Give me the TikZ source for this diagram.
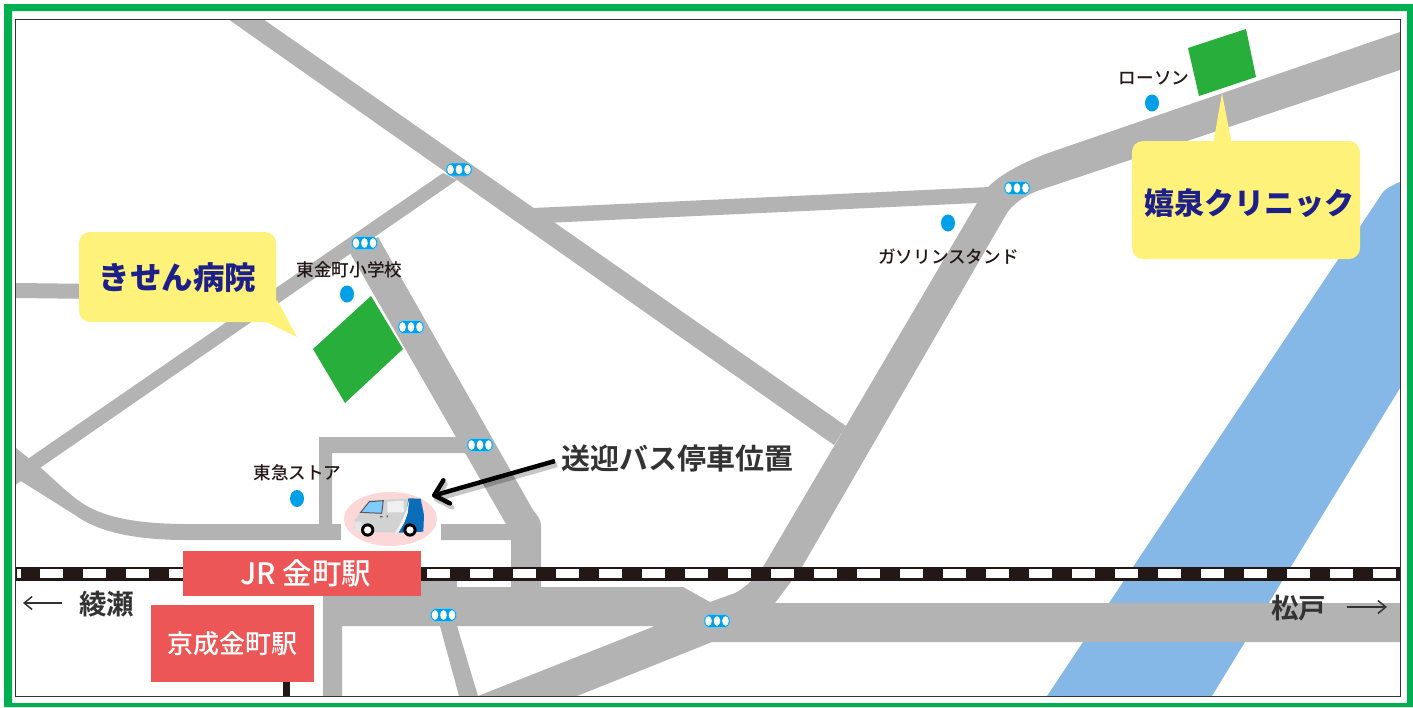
\documentclass[tikz,border=0pt]{standalone}
\usepackage{fontspec}
\setmainfont{Noto Sans CJK JP}
\newfontfamily\medfont{Noto Sans CJK JP Medium}
\newfontfamily\heavyfont{Noto Sans CJK JP Black}
\newfontfamily\semifont{Noto Sans CJK JP Bold}
\usetikzlibrary{arrows.meta,shapes.geometric}
\definecolor{roadgray}{HTML}{B3B3B3}
\definecolor{framegreen}{HTML}{00B050}
\definecolor{bldgreen}{HTML}{27AE3B}
\definecolor{water}{HTML}{85B8E6}
\definecolor{dotblue}{HTML}{00A0E9}
\definecolor{calloutyellow}{HTML}{FFF27A}
\definecolor{navytext}{HTML}{1D2088}
\definecolor{stationred}{HTML}{EC5656}
\definecolor{inkblack}{HTML}{231815}
\definecolor{darktext}{HTML}{333333}
\definecolor{vanpink}{HTML}{FBD7D7}
\definecolor{vanblue}{HTML}{0B6DB7}
\tikzset{
  road/.style={fill=roadgray,draw=none},
  bldg/.style={fill=bldgreen,draw=none},
  callout/.style={fill=calloutyellow,draw=none},
  placelabel/.style={inner sep=0pt,text=inkblack,font=\medfont\fontsize{17.6}{20}\selectfont},
  citylabel/.style={inner sep=0pt,text=darktext,font=\semifont\fontsize{27.5}{30}\selectfont},
  calloutlabel/.style={inner sep=0pt,text=navytext,font=\heavyfont\fontsize{31.5}{34}\selectfont},
  stationbox/.style={fill=stationred,draw=none,inner sep=0pt,text=white,font=\medfont\fontsize{29.5}{32}\selectfont},
  dot/.style={fill=dotblue,draw=none,ellipse,minimum width=14pt,minimum height=17pt,inner sep=0pt},
  thinarrow/.style={draw=darktext,line width=1.5pt,-{Straight Barb[length=8pt,width=13pt]}},
}
\newcommand{\signal}[3]{%
  \node[name=#1,fill=dotblue,draw=dotblue!60,line width=.6pt,rounded corners=6pt,minimum width=26pt,minimum height=13pt,inner sep=0pt] at (#2,#3) {};
  \foreach \dx in {-8.5,0,8.5} \fill[white] (#2+\dx,#3) ellipse (3.3 and 4.8);
}
\begin{document}
\begin{tikzpicture}[x=1pt,y=-1pt]
\useasboundingbox (0,0) rectangle (1413,707);
\fill[white] (0,0) rectangle (1413,707);
% outer frame
\fill[framegreen,even odd rule] (4,4) rectangle (1413,707) (12,11) rectangle (1407,703);
% water
\fill[water] (1400,182) .. controls (1393,185) and (1388,187) .. (1383,192) -- (1047,696) -- (1212,696) -- (1400,388) -- cycle;
% roads
\fill[road] (228,19) -- (263,19) -- (846,426) -- (834,445) -- cycle;
\fill[road] (533,208) -- (990,187) -- (977,203) -- (545,223) -- cycle;
\fill[road] (16,467) -- (443,173) -- (457,180) -- (16,484.5) -- cycle;
\fill[road] (16,283) -- (100,284) -- (100,299) -- (16,298) -- cycle;
\fill[road] (16,448) -- (41,468) .. controls (60,485) and (70,495) .. (82,503) .. controls (100,515) and (130,524) .. (186,524) -- (319,524) -- (319,437) -- (470,437) -- (470,453) -- (332,453) -- (332,524) -- (345,524) -- (345,540) -- (186,540) .. controls (130,540) and (95,530) .. (75,515) -- (16,478) -- cycle;
\fill[road] (350,253) -- (378,237) -- (533,510) .. controls (538,516) and (541,520) .. (541,526) -- (541,590) -- (511,590) -- (511,540) -- (441,540) -- (441,524) -- (506,524) -- cycle;
\fill[road] (1400,32) -- (1057,150) .. controls (1030,159) and (1003,172) .. (988,187) -- (977,203) -- (763,567) .. controls (755,578) and (745,588) .. (735,593) -- (710,602) -- (683,587) -- (457,587) -- (457,575) -- (323,575) -- (323,696) -- (342,696) -- (342,626) -- (440,626) -- (459,696) -- (478,696) -- (457,626) -- (655,626) -- (478,696) -- (577,696) -- (712,642) -- (1400,642) -- (1400,603) -- (775,603) -- (802,567) -- (1007,213) .. controls (1012,205) and (1025,195) .. (1040,190) -- (1400,70) -- cycle;
% railway
\fill[inkblack] (16,566.5) rectangle (1400,580.5);
\fill[white] (17,568.5) rectangle (21,578);
\foreach \k in {-9,...,22} \fill[white] (427.3+43*\k,568.5) rectangle ++(23,9.5);
% stem below the Keisei station
\fill[inkblack] (283,680) rectangle (290,696);
% inner frame
\draw[draw=darktext,line width=1pt] (15.5,19) rectangle (1400,696.5);
% buildings
\fill[bldg] (371,296) -- (403,349) -- (345,403) -- (313,349) -- cycle;
\fill[bldg] (1188,48) -- (1246,29) -- (1256,77) -- (1199,96) -- cycle;
% dots
\node[dot] (d1) at (347,294) {};
\node[dot] (d2) at (297,498.5) {};
\node[dot] (d3) at (948,223) {};
\node[dot] (d4) at (1152,103) {};
% signals
\signal{s1}{459}{169.5}
\signal{s2}{364.5}{243}
\signal{s3}{411}{327}
\signal{s4}{480}{445}
\signal{s5}{443.5}{615}
\signal{s6}{717}{621}
\signal{s7}{1017}{188}
% callouts
\fill[callout] (277,300) -- (297,337) -- (262,320) -- cycle;
\fill[callout,rounded corners=11pt] (79,232) rectangle (276,322);
\node[calloutlabel] (kisen) at (177.5,278) {きせん病院};
\fill[callout] (1213,145) -- (1222,93) -- (1232,145) -- cycle;
\fill[callout,rounded corners=11pt] (1132,141) rectangle (1360,259);
\node[calloutlabel,font=\heavyfont\fontsize{30}{34}\selectfont] (kisenclinic) at (1249.5,203) {嬉泉クリニック};
% place labels
\node[placelabel] (school) at (349.5,269.5) {東金町小学校};
\node[placelabel] (store) at (297.5,473) {東急ストア};
\node[placelabel] (gas) at (948.5,257) {ガソリンスタンド};
\node[placelabel] (lawson) at (1154,78) {ローソン};
% stations
\node[stationbox,minimum width=238pt,minimum height=45pt] (jr) at (302,573.5) {\hspace*{8pt}JR 金町駅};
\node[stationbox,minimum width=163pt,minimum height=77pt,font=\medfont\fontsize{26}{30}\selectfont] (keisei) at (232.5,643.5) {京成金町駅};
% direction labels
\node[citylabel] (ayase) at (106.5,604) {綾瀬};
\node[citylabel] (matsudo) at (1298.5,608) {松戸};
\coordinate (la) at (62,603);
\coordinate (lb) at (23,603);
\coordinate (ra) at (1347,607);
\coordinate (rb) at (1387,607);
\draw[thinarrow] (la) -- (lb);
\draw[thinarrow] (ra) -- (rb);
% van
\fill[white] (341,524) rectangle (441,540);
\node[fill=vanpink,draw=none,ellipse,minimum width=93pt,minimum height=54pt,inner sep=0pt] (van) at (390.5,519) {};
\begin{scope}[shift={(330,480)},x=0.3333pt,y=-0.3333pt]
  \fill[gray!35] (72,155) -- (75,120) -- (95,90) -- (118,60) -- (240,56) -- (230,110) -- (205,158) -- cycle;
  \fill[vanblue] (235,55) -- (272,56) -- (282,105) -- (280,155) -- (205,158) -- (228,115) -- cycle;
  \fill[white!92!gray] (238,58) -- (233,100) -- (222,130) -- (205,158) -- (196,158) -- (215,125) -- (228,95) -- cycle;
  \fill[white!80!gray] (72,155) -- (75,125) -- (95,125) -- (95,155) -- cycle;
  \fill[blue!40!cyan!50!white,draw=gray!70!black,line width=1pt] (92,97) -- (118,65) -- (160,62) -- (155,100) -- cycle;
  \fill[gray!12] (172,65) -- (220,62) -- (222,97) -- (172,97) -- cycle;
  \fill[inkblack!70] (150,108) rectangle (158,112) (170,106) rectangle (174,112);
  \foreach \wx in {113,240} {
    \fill[black] (\wx,150) circle (20);
    \fill[white] (\wx,150) circle (11);
  }
\end{scope}
% bus stop label and arrow
\node[citylabel,font=\semifont\fontsize{29}{32}\selectfont] (busstop) at (677,458) {送迎バス停車位置};
\coordinate (arrowfrom) at (555,461);
\coordinate (arrowto) at (432,496);
\draw[draw=black,opacity=.22,line width=4.5pt,-{Straight Barb[length=13pt,width=24pt,round]}] ([shift={(2,4)}]arrowfrom) -- ([shift={(2,4)}]arrowto);
\draw[draw=black,line width=4.5pt,-{Straight Barb[length=13pt,width=24pt,round]}] (arrowfrom) -- (arrowto);
\end{tikzpicture}
\end{document}
